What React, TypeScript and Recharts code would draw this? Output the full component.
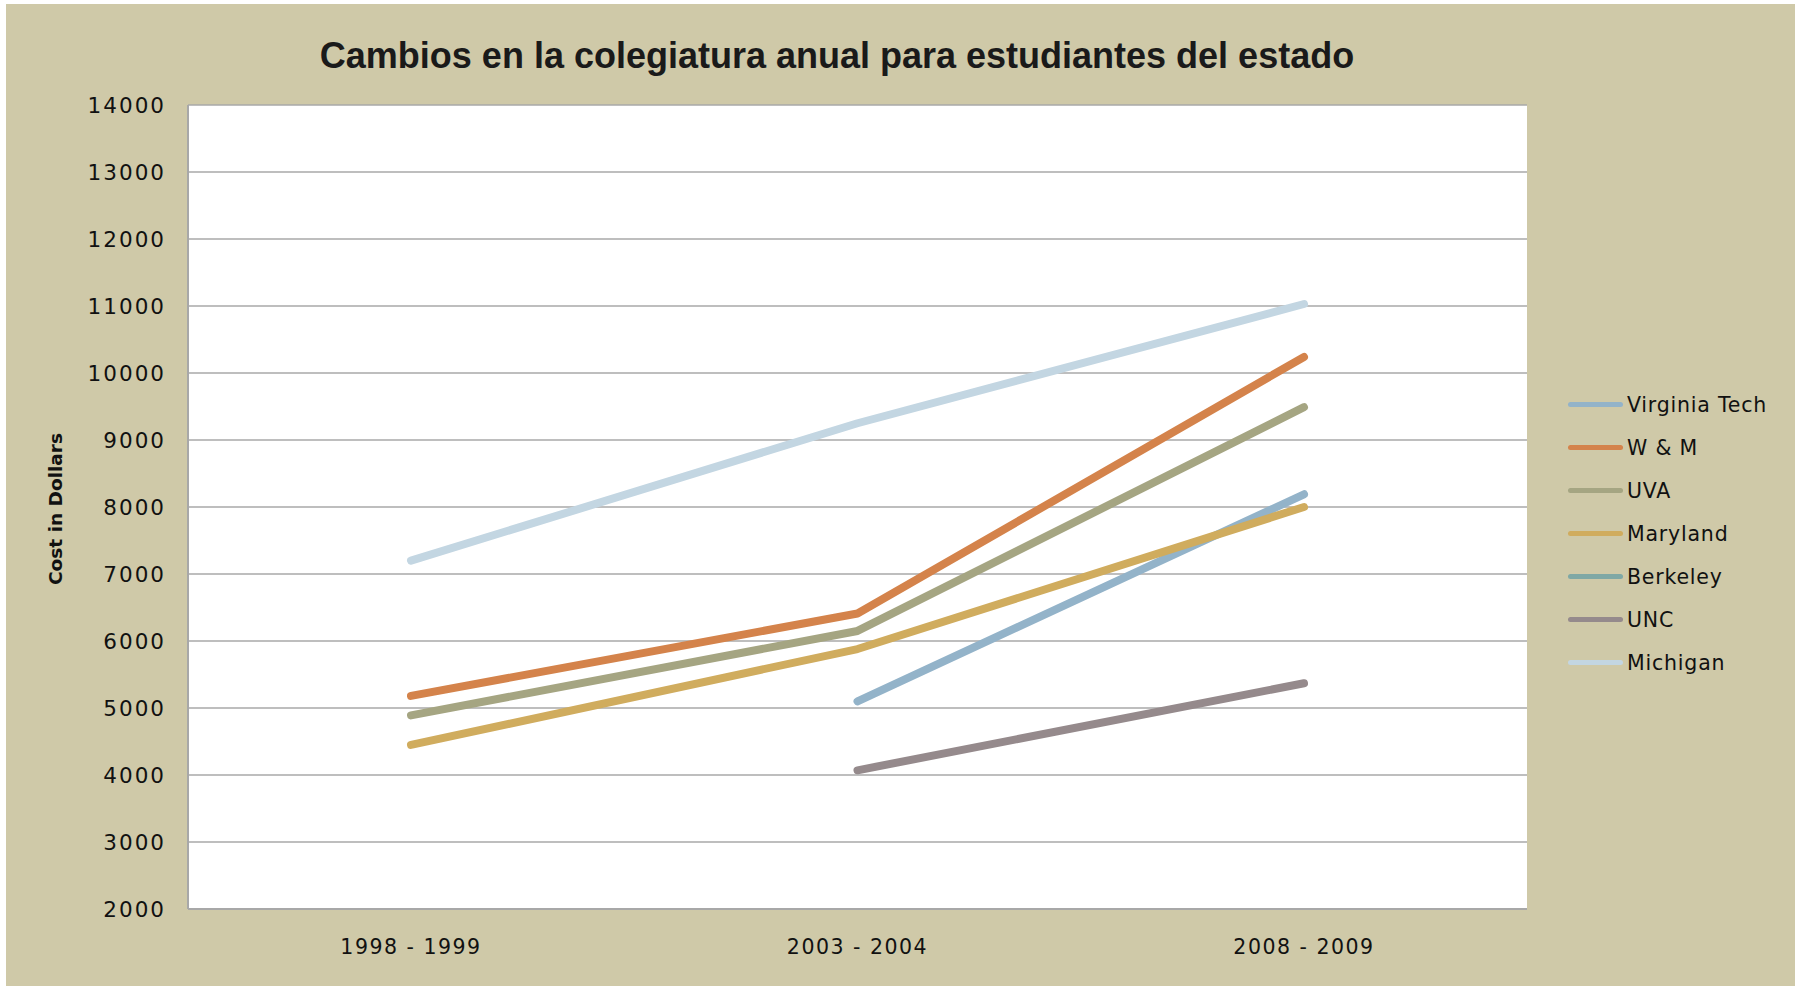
import { LineChart, Line, XAxis, YAxis, CartesianGrid } from "recharts";

const periods = ["1998 - 1999", "2003 - 2004", "2008 - 2009"];
const virginiaTech = [null, 5100, 8190];
const wm = [5180, 6410, 10240];
const uva = [4890, 6150, 9490];
const maryland = [4450, 5880, 8000];
const berkeley = [null, null, null];
const unc = [null, 4070, 5370];
const michigan = [7200, 9250, 11030];
const yTicks = [2000, 3000, 4000, 5000, 6000, 7000, 8000, 9000, 10000, 11000, 12000, 13000, 14000];

const series = [
  { key: "Virginia Tech", values: virginiaTech, color: "#93b3c9" },
  { key: "W & M", values: wm, color: "#d4834b" },
  { key: "UVA", values: uva, color: "#a5a582" },
  { key: "Maryland", values: maryland, color: "#d0ac5e" },
  { key: "Berkeley", values: berkeley, color: "#7fa8a5" },
  { key: "UNC", values: unc, color: "#958a8c" },
  { key: "Michigan", values: michigan, color: "#c3d6e2" },
];

const data = periods.map((p, i) => {
  const row: Record<string, string | number | null> = { period: p };
  series.forEach((s) => (row[s.key] = s.values[i]));
  return row;
});

const BG = "#cfc9a8";
const TICK_FONT = "'DejaVu Sans', sans-serif";

// legend drawn by hand so it doesn't eat into the plot width
function LegendBox() {
  return (
    <div style={{ position: "absolute", left: "1562px", top: "379px", display: "flex", flexDirection: "column" }}>
      {series.map((s) => (
        <div key={s.key} style={{ display: "flex", alignItems: "center", height: "43px" }}>
          <div style={{ width: "55px", height: "5px", borderRadius: "3px", background: s.color, marginRight: "4px" }} />
          <span style={{ fontFamily: TICK_FONT, fontSize: "20.5px", color: "#111", letterSpacing: "0.8px" }}>{s.key}</span>
        </div>
      ))}
    </div>
  );
}

export default function App() {
  return (
    <div style={{ position: "absolute", left: 0, top: 0, width: "1795px", height: "986px", background: "#fff" }}>
      <div style={{ position: "absolute", left: "6px", top: "4px", width: "1789px", height: "982px", background: BG }}>
        <div style={{ position: "absolute", left: 0, width: "1662px", top: "31px", textAlign: "center", fontFamily: "'Liberation Sans', Arial, sans-serif", fontWeight: 700, fontSize: "36px", color: "#1a1a1a" }}>
          Cambios en la colegiatura anual para estudiantes del estado
        </div>
        <div style={{ position: "absolute", left: "49px", top: "505px", transform: "translate(-50%, -50%) rotate(-90deg)", whiteSpace: "nowrap", fontFamily: "'DejaVu Sans', sans-serif", fontWeight: 700, fontSize: "18.5px", color: "#111" }}>
          Cost in Dollars
        </div>
        <LineChart width={1789} height={982} data={data} margin={{ top: 101, right: 268, left: 0, bottom: 0 }}>
          <CartesianGrid vertical={false} stroke="#a8a8a8" strokeWidth={1.5} fill="#ffffff" />
          <XAxis
            dataKey="period"
            padding={{ left: 223, right: 223 }}
            height={77}
            tickSize={0}
            tickMargin={30}
            axisLine={{ stroke: "#a8a8a8", strokeWidth: 2 }}
            tickLine={false}
            tick={{ fill: "#111", fontSize: 20.5, fontFamily: TICK_FONT, letterSpacing: 1.5 }}
          />
          <YAxis
            width={182}
            domain={[2000, 14000]}
            ticks={yTicks}
            interval={0}
            tickSize={0}
            tickMargin={22}
            axisLine={{ stroke: "#a8a8a8", strokeWidth: 2 }}
            tickLine={false}
            tick={{ fill: "#111", fontSize: 21.5, fontFamily: TICK_FONT, letterSpacing: 2 }}
          />
          {series.map((s) => (
            <Line
              key={s.key}
              type="linear"
              dataKey={s.key}
              stroke={s.color}
              strokeWidth={8}
              strokeLinecap="round"
              strokeLinejoin="round"
              dot={false}
              activeDot={false}
              isAnimationActive={false}
            />
          ))}
        </LineChart>
        <LegendBox />
      </div>
    </div>
  );
}
